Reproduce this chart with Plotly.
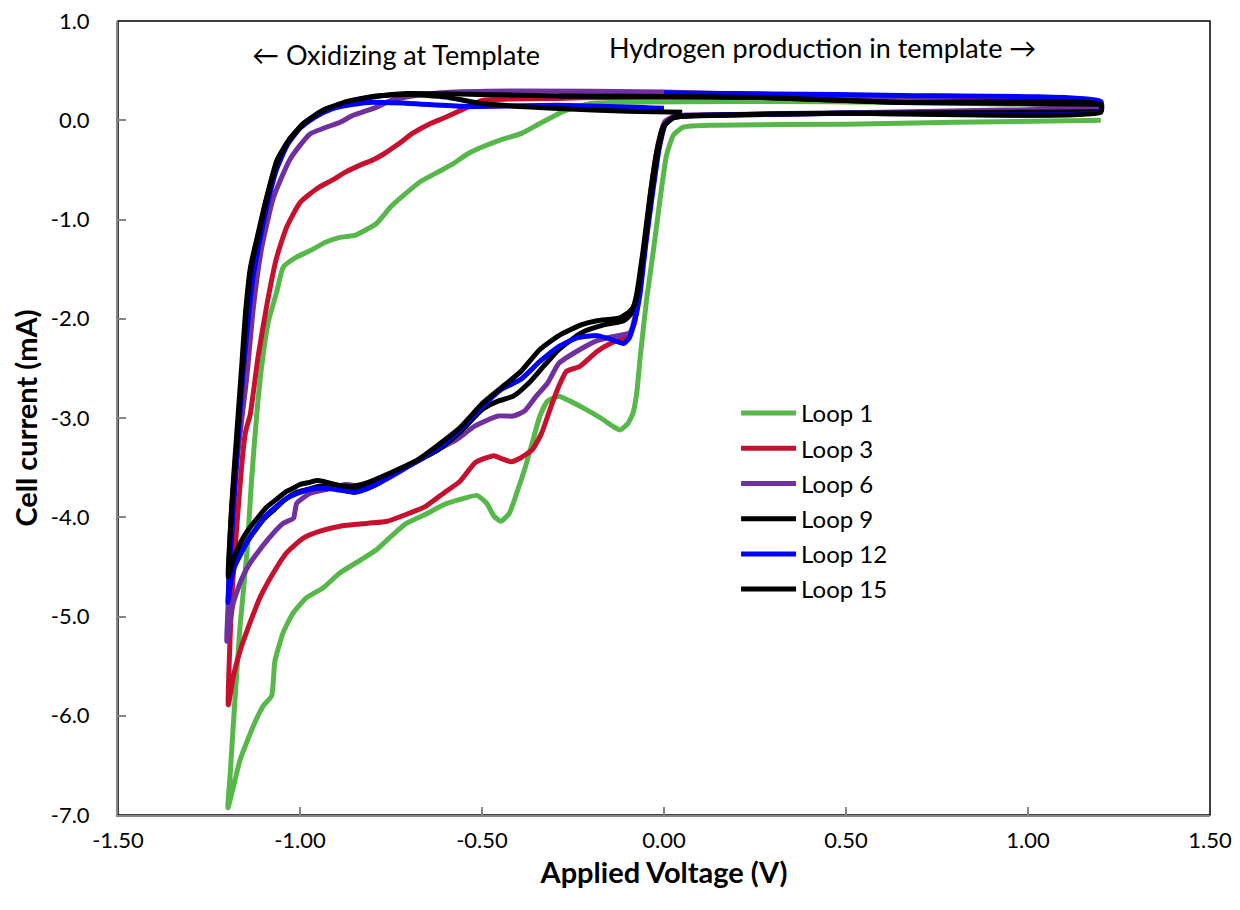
import plotly.graph_objects as go

# cyclic voltammetry loops, applied voltage (V) vs cell current (mA)
loop1_v = [1.2, 0.65, 0.26, -0.2, -0.27, -0.34, -0.39, -0.45, -0.50, -0.54,
           -0.58, -0.62, -0.67, -0.71, -0.75, -0.79, -0.85, -0.89, -0.93, -0.97,
           -1.01, -1.046, -1.064, -1.087, -1.105, -1.119, -1.133, -1.146, -1.165, -1.179,
           -1.192, -1.198,
           -1.165, -1.128, -1.101, -1.078, -1.069, -1.046, -1.018, -0.982, -0.936, -0.890,
           -0.833, -0.791, -0.749, -0.707, -0.655, -0.603, -0.55, -0.514, -0.487, -0.467,
           -0.448, -0.425, -0.404, -0.383, -0.362, -0.341, -0.320, -0.289, -0.258, -0.216,
           -0.174, -0.142, -0.121, -0.100, -0.085, -0.075, -0.066, -0.048, -0.029, -0.011,
           0.007, 0.026, 0.053, 0.136, 0.5, 0.8, 1.2]
loop1_i = [0.15, 0.18, 0.19, 0.17, 0.10, -0.03, -0.13, -0.20, -0.27, -0.34,
           -0.44, -0.52, -0.62, -0.74, -0.87, -1.04, -1.16, -1.18, -1.23, -1.31,
           -1.38, -1.48, -1.73, -2.03, -2.47, -2.97, -3.62, -4.36, -5.11, -5.85,
           -6.60, -6.93,
           -6.45, -6.10, -5.90, -5.80, -5.45, -5.16, -4.96, -4.81, -4.71, -4.56,
           -4.43, -4.33, -4.19, -4.06, -3.97, -3.87, -3.81, -3.78, -3.86, -3.99,
           -4.04, -3.96, -3.75, -3.52, -3.25, -2.98, -2.83, -2.78, -2.83, -2.91,
           -3.00, -3.08, -3.12, -3.06, -2.95, -2.75, -2.41, -1.81, -1.31, -0.80,
           -0.35, -0.15, -0.07, -0.05, -0.04, -0.02, 0.0]

loop3_v = [1.2, 0.83, 0.3, -0.18, -0.29, -0.50, -0.54, -0.60, -0.64, -0.69,
           -0.73, -0.77, -0.80, -0.833, -0.874, -0.91, -0.954, -1.0, -1.037, -1.064,
           -1.092, -1.115, -1.137, -1.147, -1.151, -1.160, -1.174, -1.188, -1.197,
           -1.183, -1.165, -1.137, -1.110, -1.073, -1.037, -0.991, -0.945, -0.890, -0.812,
           -0.760, -0.707, -0.655, -0.603, -0.561, -0.519, -0.487, -0.467, -0.446, -0.420,
           -0.393, -0.362, -0.336, -0.310, -0.289, -0.268, -0.231, -0.184, -0.142, -0.100,
           -0.082, -0.066, -0.05, -0.033, -0.015, 0.003, 0.028, 0.06, 0.5, 1.2]
loop3_i = [0.15, 0.24, 0.23, 0.23, 0.22, 0.20, 0.13, 0.03, -0.03, -0.13,
           -0.24, -0.34, -0.40, -0.45, -0.52, -0.60, -0.69, -0.83, -1.08, -1.38,
           -1.88, -2.38, -2.97, -3.10, -3.17, -3.47, -4.11, -4.86, -5.89,
           -5.60, -5.35, -5.06, -4.81, -4.56, -4.36, -4.21, -4.14, -4.09, -4.06,
           -4.04, -3.97, -3.89, -3.75, -3.64, -3.45, -3.40, -3.38, -3.41, -3.44,
           -3.40, -3.32, -3.15, -2.88, -2.68, -2.53, -2.48, -2.33, -2.24, -2.18,
           -2.05, -1.70, -1.15, -0.62, -0.22, -0.01, 0.04, 0.05, 0.07, 0.10]

loop6_v = [1.2, 0.6, 0.0, -0.4, -0.6, -0.7, -0.749, -0.791, -0.854, -0.890,
           -0.973, -1.027, -1.073, -1.105, -1.128, -1.146, -1.172, -1.188, -1.197, -1.201,
           -1.183, -1.160, -1.137, -1.092, -1.046, -1.018, -1.009, -0.973, -0.927, -0.874,
           -0.812, -0.749, -0.686, -0.623, -0.571, -0.519, -0.456, -0.414, -0.383, -0.351,
           -0.320, -0.289, -0.231, -0.184, -0.142, -0.093, -0.078, -0.064, -0.048, -0.031,
           -0.013, 0.004, 0.03, 0.06, 0.6, 1.2]
loop6_i = [0.14, 0.22, 0.285, 0.295, 0.28, 0.24, 0.20, 0.13, 0.05, -0.02,
           -0.14, -0.39, -0.78, -1.28, -1.88, -2.58, -3.40, -4.20, -4.85, -5.25,
           -4.86, -4.62, -4.46, -4.24, -4.06, -4.01, -3.86, -3.76, -3.72, -3.67,
           -3.70, -3.59, -3.45, -3.32, -3.22, -3.08, -2.98, -2.98, -2.93, -2.78,
           -2.65, -2.45, -2.31, -2.22, -2.18, -2.14, -1.95, -1.60, -1.15, -0.65,
           -0.22, -0.01, 0.04, 0.05, 0.08, 0.12]

loop9_v = [1.2, 0.65, 0.27, 0.0, -0.29, -0.5, -0.707, -0.791, -0.874, -0.937,
           -0.990, -1.031, -1.063, -1.094, -1.115, -1.136, -1.150, -1.160, -1.174, -1.188,
           -1.197,
           -1.185, -1.17, -1.15, -1.125, -1.10, -1.07, -1.04, -1.01, -0.98, -0.95,
           -0.92, -0.89, -0.86, -0.83, -0.79, -0.749, -0.68, -0.62, -0.56, -0.498,
           -0.456, -0.414, -0.372, -0.331, -0.289, -0.226, -0.163, -0.111, -0.09, -0.075,
           -0.057, -0.039, -0.02, -0.002, 0.022, 0.05, 0.5, 1.2]
loop9_i = [0.16, 0.18, 0.23, 0.24, 0.245, 0.26, 0.27, 0.24, 0.18, 0.10,
           -0.03, -0.20, -0.40, -0.81, -1.14, -1.48, -1.95, -2.47, -3.17, -3.90,
           -4.70,
           -4.52, -4.40, -4.27, -4.14, -4.02, -3.92, -3.82, -3.75, -3.72, -3.69,
           -3.69, -3.71, -3.72, -3.70, -3.64, -3.57, -3.44, -3.32, -3.14, -2.91,
           -2.83, -2.78, -2.65, -2.48, -2.31, -2.14, -2.06, -2.02, -1.95, -1.75,
           -1.30, -0.78, -0.32, -0.06, 0.02, 0.04, 0.07, 0.085]

loop12_v = [0.0, -0.29, -0.55, -0.70, -0.81, -0.87, -0.916, -0.96, -1.0, -1.035,
            -1.065, -1.09, -1.11, -1.13, -1.145, -1.158, -1.17, -1.183, -1.193, -1.198,
            -1.19, -1.18, -1.16, -1.137, -1.115, -1.092, -1.065, -1.037, -1.0, -0.96,
            -0.93, -0.90, -0.87, -0.85, -0.82, -0.78, -0.749, -0.686, -0.623, -0.561,
            -0.498, -0.446, -0.393, -0.341, -0.289, -0.237, -0.184, -0.142, -0.111, -0.095,
            -0.079, -0.066, -0.05, -0.032, -0.013, 0.004, 0.028, 0.055, 0.5, 1.2,
            1.2, 0.65, 0.3, 0.0]
loop12_i = [0.12, 0.15, 0.14, 0.17, 0.18, 0.15, 0.11, 0.03, -0.08, -0.25,
            -0.50, -0.85, -1.20, -1.60, -2.10, -2.60, -3.20, -3.90, -4.50, -4.86,
            -4.65, -4.50, -4.35, -4.20, -4.08, -3.98, -3.89, -3.81, -3.75, -3.71,
            -3.71, -3.72, -3.74, -3.75, -3.72, -3.65, -3.58, -3.45, -3.31, -3.12,
            -2.88, -2.71, -2.61, -2.43, -2.28, -2.19, -2.17, -2.21, -2.25, -2.19,
            -2.00, -1.75, -1.25, -0.75, -0.28, -0.04, 0.03, 0.045, 0.07, 0.09,
            0.19, 0.25, 0.265, 0.275]

loop15_v = [0.05, -0.1, -0.29, -0.5, -0.6, -0.7, -0.79, -0.87, -0.93, -0.985,
            -1.028, -1.06, -1.092, -1.113, -1.134, -1.148, -1.158, -1.172, -1.187, -1.197,
            -1.185, -1.174, -1.155, -1.137, -1.115, -1.092, -1.065, -1.037, -1.02, -1.0,
            -0.975, -0.954, -0.935, -0.915, -0.89, -0.86, -0.83, -0.80, -0.749, -0.676,
            -0.623, -0.561, -0.498, -0.435, -0.393, -0.341, -0.289, -0.226, -0.184, -0.121,
            -0.095, -0.08, -0.071, -0.053, -0.035, -0.016, 0.002, 0.026, 0.053, 0.5,
            1.2, 1.2, 0.65, 0.27, 0.0, -0.29]
loop15_i = [0.08, 0.09, 0.118, 0.168, 0.235, 0.26, 0.245, 0.19, 0.11, -0.02,
            -0.19, -0.40, -0.80, -1.14, -1.48, -1.95, -2.47, -3.17, -3.88, -4.60,
            -4.45, -4.34, -4.20, -4.10, -4.00, -3.90, -3.82, -3.74, -3.71, -3.67,
            -3.65, -3.63, -3.64, -3.66, -3.68, -3.69, -3.67, -3.63, -3.55, -3.42,
            -3.28, -3.10, -2.85, -2.66, -2.53, -2.31, -2.17, -2.06, -2.02, -1.99,
            -1.93, -1.85, -1.71, -1.26, -0.75, -0.30, -0.05, 0.025, 0.04, 0.07,
            0.08, 0.16, 0.18, 0.23, 0.24, 0.245]

loop_names = ['Loop 1', 'Loop 3', 'Loop 6', 'Loop 9', 'Loop 12', 'Loop 15']
loop_colors = ['#55B848', '#C8102E', '#7030A0', '#000000', '#0000FF', '#000000']

x_ticks = [-1.5, -1.0, -0.5, 0.0, 0.5, 1.0, 1.5]
y_ticks = [1.0, 0.0, -1.0, -2.0, -3.0, -4.0, -5.0, -6.0, -7.0]

FONT = 'Lato, "Open Sans", sans-serif'
AXIS_GRAY = '#868686'

loops = [
    (loop1_v, loop1_i), (loop3_v, loop3_i), (loop6_v, loop6_i),
    (loop9_v, loop9_i), (loop12_v, loop12_i), (loop15_v, loop15_i),
]

fig = go.Figure()
for (v, i), name, color in zip(loops, loop_names, loop_colors):
    fig.add_trace(go.Scatter(
        x=v, y=i, name=name, mode='lines', legendgroup=name,
        line=dict(color=color, width=5, shape='spline', smoothing=0.5)
    ))

# the page body adds an ~8px offset, so the figure is a bit smaller than the window
fig.update_layout(
    width=1232, height=902,
    paper_bgcolor='white', plot_bgcolor='white',
    margin=dict(l=110, r=30, t=13, b=95),
    font=dict(family=FONT, color='black', size=22),
    showlegend=True,
    legend=dict(
        x=0.566, y=0.534, xanchor='left', yanchor='top',
        font=dict(size=24), tracegroupgap=1, itemwidth=55,
        bgcolor='rgba(0,0,0,0)'
    ),
    shapes=[dict(
        type='rect', xref='paper', yref='paper', x0=0, x1=1, y0=0, y1=1,
        line=dict(color='black', width=1.5), layer='below'
    )],
    annotations=[
        dict(text='\u2190 Oxidizing at Template', xref='paper', yref='paper',
             x=0.121, y=0.958, xanchor='left', yanchor='middle',
             showarrow=False, font=dict(size=27)),
        dict(text='Hydrogen production in template \u2192', xref='paper', yref='paper',
             x=0.448, y=0.967, xanchor='left', yanchor='middle',
             showarrow=False, font=dict(size=27)),
    ],
)

fig.update_xaxes(
    range=[-1.5, 1.5], tickvals=x_ticks, ticktext=[f'{t:.2f}' for t in x_ticks],
    showgrid=False, zeroline=False, automargin=False, ticklabeloverflow='allow',
    showline=True, linecolor=AXIS_GRAY, linewidth=2,
    ticks='inside', ticklen=8, tickcolor=AXIS_GRAY, tickwidth=2,
    tickfont=dict(size=22), ticklabelstandoff=5,
    title=dict(text='<b>Applied Voltage (V)</b>', font=dict(size=29), standoff=10),
)
fig.update_yaxes(
    range=[-7, 1], tickvals=y_ticks, ticktext=[f'{t:.1f}' for t in y_ticks],
    showgrid=False, zeroline=False, automargin=False, ticklabeloverflow='allow',
    showline=True, linecolor=AXIS_GRAY, linewidth=2,
    ticks='inside', ticklen=8, tickcolor=AXIS_GRAY, tickwidth=2,
    tickfont=dict(size=22), ticklabelstandoff=22,
    title=dict(text='<b>Cell current (mA)</b>', font=dict(size=29), standoff=8),
)

fig.write_html('out.html')
